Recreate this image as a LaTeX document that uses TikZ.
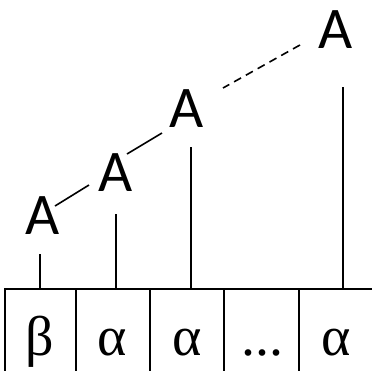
\documentclass[tikz,border=0pt]{standalone}
\usepackage{fontspec}
\newfontfamily\capfont{Carlito}
\newfontfamily\greekfont{Liberation Serif}
\usetikzlibrary{calc}
\begin{document}
\begin{tikzpicture}[x=1pt,y=-1pt,
  line width=1.6pt,
  anode/.style={inner sep=0pt, outer sep=0pt, font=\capfont\fontsize{59}{59}\selectfont},
  cell/.style={draw, inner sep=0pt, outer sep=0pt, minimum height=91pt},
  glabel/.style={inner sep=0pt, anchor=base, font=\greekfont\fontsize{56}{56}\selectfont},
  dashedge/.style={dash pattern=on 8pt off 5.5pt}]
\useasboundingbox (0,0) rectangle (372,370);
% cells
\node[cell, minimum width=71pt] (c1) at (40.5,334.5) {};
\node[cell, minimum width=74pt] (c2) at (113,334.5) {};
\node[cell, minimum width=74pt] (c3) at (187,334.5) {};
\node[cell, minimum width=75pt] (c4) at (261.5,334.5) {};
\node[cell, minimum width=74pt] (c5) at (336,334.5) {};
\node[glabel] (l1) at (40,355) {β};
\node[glabel] (l2) at (112.5,355) {α};
\node[glabel] (l3) at (187.5,355) {α};
\node[glabel] (l4) at (262,355) {...};
\node[glabel] (l5) at (336,355) {α};
% A nodes
\node[anode] (a1) at (43,215.5) {A};
\node[anode] (a2) at (116,172.5) {A};
\node[anode] (a3) at (187,109) {A};
\node[anode] (a4) at (336,30) {A};
% connectors
\draw ($(a1.center)+(12,-9.5)$) -- ($(a2.center)+(-27,12.5)$);
\draw ($(a2.center)+(11,-18.5)$) -- ($(a3.center)+(-25,24)$);
\draw[dashedge] ($(a4.center)+(-36,15)$) -- ($(a3.center)+(36,-21)$);
% verticals
\coordinate (t1) at (40,254);
\coordinate (t2) at (116,214);
\coordinate (t3) at (191,147);
\coordinate (t5) at (343,87);
\draw (t1) -- (t1 |- c1.north);
\draw (t2) -- (t2 |- c2.north);
\draw (t3) -- (t3 |- c3.north);
\draw (t5) -- (t5 |- c5.north);
\end{tikzpicture}
\end{document}
